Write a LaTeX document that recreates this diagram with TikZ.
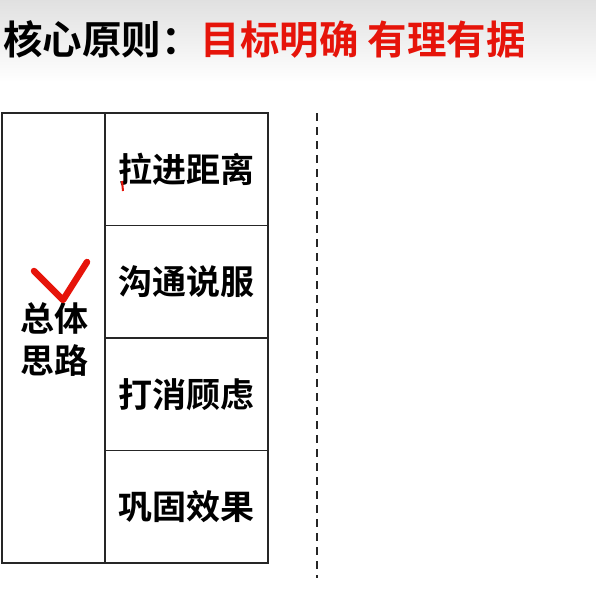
\documentclass[tikz,border=0pt]{standalone}
\usepackage{fontspec}
\setmainfont{Noto Sans CJK SC}[BoldFont={* Bold}]
\newfontfamily\cjkb{Noto Sans CJK SC Bold}
\usetikzlibrary{calc}
\definecolor{titlered}{RGB}{230,20,10}
\tikzset{
  cell/.style={draw=black!85, line width=1.3pt, minimum width=163pt, minimum height=112.5pt, inner sep=0pt, outer sep=0pt, font=\cjkb\fontsize{34}{40}\selectfont},
  leftcell/.style={draw=black!85, line width=1.3pt, minimum width=103pt, minimum height=450pt, inner sep=0pt, outer sep=0pt},
  redmark/.style={draw=titlered, line width=6.5pt, line cap=round, line join=round}
}
\begin{document}
\begin{tikzpicture}[x=1pt,y=-1pt]
\useasboundingbox (0,0) rectangle (596,603);
\shade[top color=black!12, bottom color=white] (0,0) rectangle (596,82);
\node[anchor=west, inner sep=0pt, font=\cjkb\fontsize{39.5}{44}\selectfont] (title) at (3,39) {核心原则：\textcolor{titlered}{目标明确 有理有据}};
\node[leftcell, anchor=north west] (left) at (2,113) {};
\node[cell, anchor=north west] (c1) at (105,113) {拉进距离};
\node[cell, anchor=north] (c2) at (c1.south) {沟通说服};
\node[cell, anchor=north] (c3) at (c2.south) {打消顾虑};
\node[cell, anchor=north] (c4) at (c3.south) {巩固效果};
\node[font=\cjkb\fontsize{34}{42}\selectfont, align=center, inner sep=0pt] (ztsl) at (54,339) {总体\\思路};
\coordinate (dtop) at (317,113);
\coordinate (dbot) at (317,578);
\draw[black!85, line width=1.5pt, dash pattern=on 8pt off 6pt] (dtop) -- (dbot);
\draw[redmark] (34,271) -- (63,300) -- (87,262);
\draw[draw=titlered, line width=2pt] (122,181) -- (123,191);
\end{tikzpicture}
\end{document}
